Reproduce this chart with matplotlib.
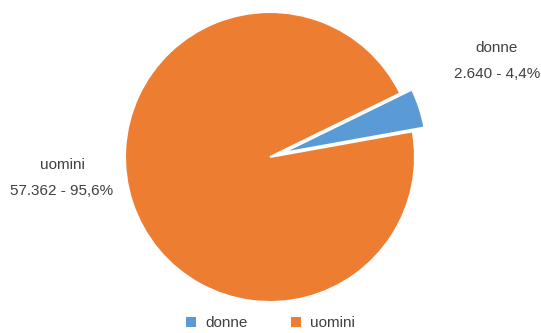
import matplotlib
matplotlib.use("Agg")
import matplotlib.pyplot as plt
from matplotlib.patches import Patch

plt.rcParams['font.family'] = ['Liberation Sans', 'DejaVu Sans']

categories = ["donne", "uomini"]
counts = [2640, 57362]
pct_labels = ["4,4%", "95,6%"]
count_labels = ["2.640", "57.362"]
colors = ["#5B9BD5", "#ED7D31"]

W, H = 541, 333
fig = plt.figure(figsize=(W / 100, H / 100), dpi=100)

cx, cy, r = 270, 157, 145
ax = fig.add_axes([(cx - r) / W, (H - cy - r) / H, 2 * r / W, 2 * r / H])
ax.pie(counts, colors=colors, startangle=10.2, counterclock=True,
       explode=[0.085, 0], radius=1.0,
       wedgeprops=dict(edgecolor="white", linewidth=1.5))
ax.set_xlim(-1, 1)
ax.set_ylim(-1, 1)
ax.set_aspect("equal")
ax.axis("off")

# data labels placed outside the pie
label_pos = [(497, 48), (62, 165)]
for (x, y), cat, c, p in zip(label_pos, categories, count_labels, pct_labels):
    fig.text(x / W, 1 - y / H, cat, ha="center", va="center", fontsize=11, color="#404040")
    fig.text(x / W, 1 - (y + 26) / H, f"{c} - {p}", ha="center", va="center",
             fontsize=11, color="#404040")

handles = [Patch(facecolor=col, edgecolor="none", label=cat) for cat, col in zip(categories, colors)]
fig.legend(handles=handles, loc="center", bbox_to_anchor=(0.5, 1 - 323 / H), ncol=2,
           frameon=False, fontsize=11, handlelength=0.65, handleheight=0.65,
           handletextpad=0.6, columnspacing=2.8, labelcolor="#404040")

fig.savefig("out.png", dpi=100)
